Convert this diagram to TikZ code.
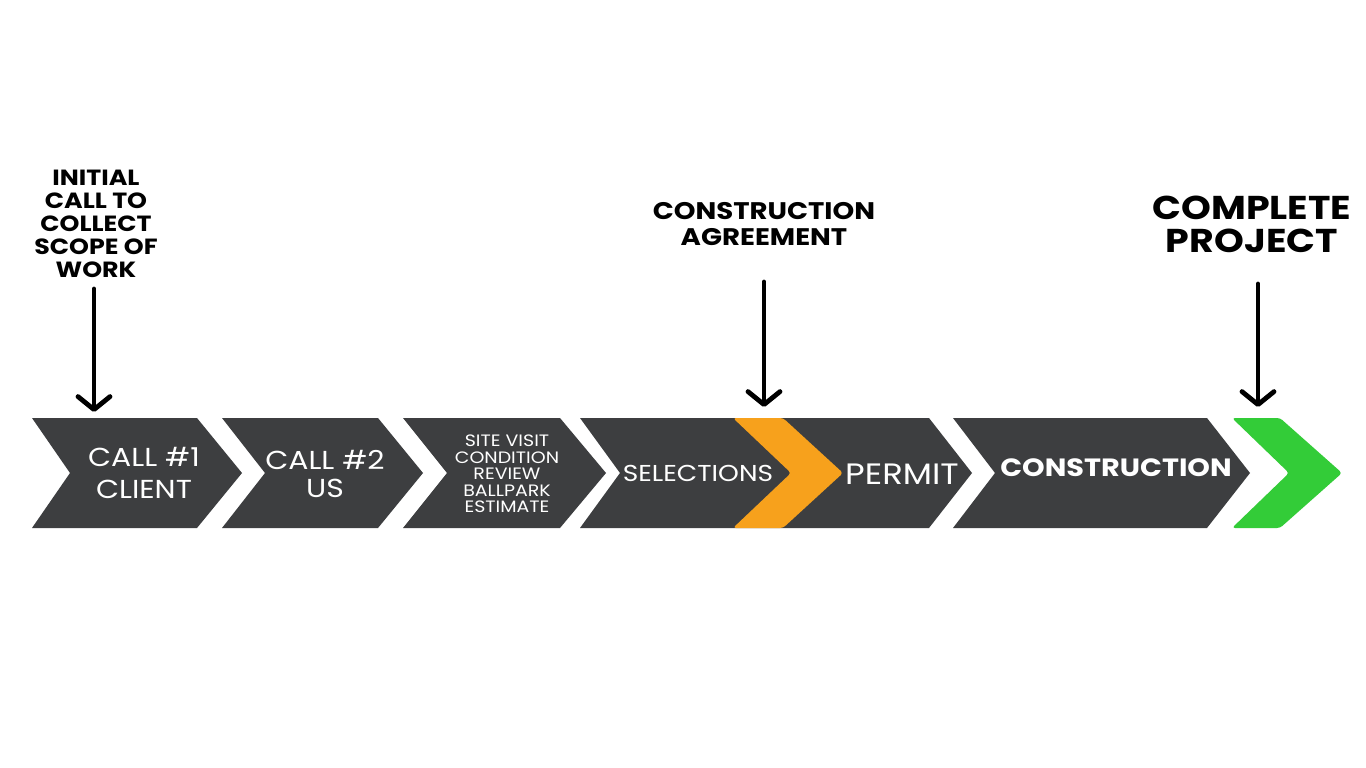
\documentclass[tikz,border=0pt]{standalone}
\usepackage{fontspec}
\setmainfont{Poppins}[FakeStretch=1.15]
\usetikzlibrary{arrows.meta}
\definecolor{darkbar}{HTML}{3D3E40}
\definecolor{orangechev}{HTML}{F7A11C}
\definecolor{greenchev}{HTML}{33CC38}
\tikzset{
  bar/.style={fill=darkbar, draw=none},
  accent/.style={draw=none, rounded corners=3pt},
  boxtext/.style={text=white, align=center, inner sep=0pt},
  headtext/.style={text=black, align=center, inner sep=0pt, font=\bfseries},
  pointer/.style={line width=4.8pt, line cap=round, -{Straight Barb[length=13pt,width=32pt,line cap=round,line join=round]}}
}
\begin{document}
\begin{tikzpicture}[x=1pt,y=-1pt]
\useasboundingbox (0,0) rectangle (1366,768);
\fill[white] (0,0) rectangle (1366,768);

% chevrons
\fill[bar] (32,418) -- (197,418) -- (242,473) -- (197,528) -- (32,528) -- (70,473) -- cycle;
\fill[bar] (222,418) -- (378,418) -- (423,473) -- (378,528) -- (222,528) -- (265,473) -- cycle;
\fill[bar] (403,418) -- (560,418) -- (606,473) -- (560,528) -- (403,528) -- (447,473) -- cycle;
\fill[bar] (580,418) -- (929,418) -- (972,473) -- (929,528) -- (580,528) -- (620,473) -- cycle;
\fill[bar] (953,418) -- (1207,418) -- (1250,473) -- (1207,528) -- (953,528) -- (995,473) -- cycle;
\fill[accent, fill=orangechev] (733,418) -- (783,418) -- (843,473) -- (783,528) -- (733,528) -- (791,473) -- cycle;
\fill[accent, fill=greenchev] (1232,418) -- (1280,418) -- (1342,473) -- (1280,528) -- (1232,528) -- (1289,473) -- cycle;

% box texts
\node[boxtext, font=\fontsize{26}{32}\selectfont] (call1) at (144,473) {CALL \#1\\CLIENT};
\node[boxtext, font=\fontsize{26}{28}\selectfont] (call2) at (325,474) {CALL \#2\\US};
\node[boxtext, font=\fontsize{16.5}{16.5}\selectfont] (visit) at (507,474) {SITE VISIT\\CONDITION\\REVIEW\\BALLPARK\\ESTIMATE};
\node[boxtext, font=\fontsize{23}{26}\selectfont] (sel) at (698,473) {SELECTIONS};
\node[boxtext, font=\fontsize{29.5}{32}\selectfont] (permit) at (902,474) {PERMIT};
\node[boxtext, font=\fontsize{25}{30}\selectfont\bfseries] (constr) at (1116,468) {CONSTRUCTION};

% headline labels
\node[headtext, font=\fontsize{22}{23}\selectfont\bfseries] (initial) at (96,224) {INITIAL\\CALL TO\\COLLECT\\SCOPE OF\\WORK};
\node[headtext, font=\fontsize{24}{25.5}\selectfont\bfseries] (agree) at (764,224) {CONSTRUCTION\\AGREEMENT};
\node[headtext, font=\fontsize{33}{33}\selectfont\bfseries] (complete) at (1252,224) {COMPLETE\\PROJECT};

% pointers
\coordinate (p1s) at (94,289);
\coordinate (p1e) at (94,412);
\coordinate (p2s) at (764,282);
\coordinate (p2e) at (764,407);
\coordinate (p3s) at (1258,284);
\coordinate (p3e) at (1258,407);
\draw[pointer] (p1s) -- (p1e);
\draw[pointer] (p2s) -- (p2e);
\draw[pointer] (p3s) -- (p3e);
\end{tikzpicture}
\end{document}
